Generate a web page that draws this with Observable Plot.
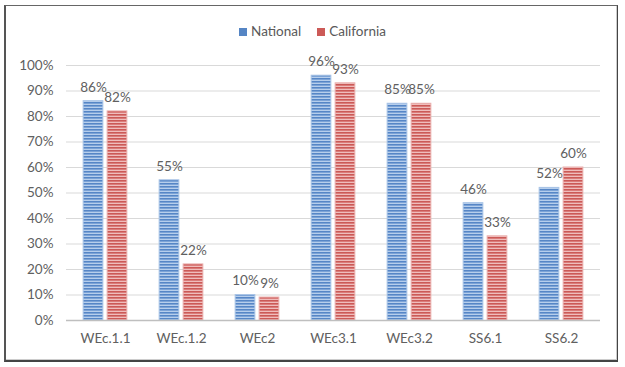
<!DOCTYPE html>
<html>
<head>
<meta charset="utf-8">
<script src="https://cdn.jsdelivr.net/npm/d3@7"></script>
<script src="https://cdn.jsdelivr.net/npm/@observablehq/plot@0.6"></script>
<style>
  html, body { margin: 0; padding: 0; background: #fff; }
  #wrap { position: relative; width: 625px; height: 367px; font-family: Lato, "Liberation Sans", sans-serif; }
  #frame { position: absolute; left: 4px; top: 5px; width: 611px; height: 354px; border-left: 2px solid #555; border-top: 1px solid #666; border-right: 1px solid #444; border-bottom: 2px solid #444; box-shadow: inset -1px -1px 0 #ccc; pointer-events: none; }
  #legend { position: absolute; top: 23px; left: 0; width: 625px; text-align: center; font-size: 13.5px; color: #595959; }
  #legend span.item { margin: 0 8px; }
  #legend span.sw { display: inline-block; width: 8px; height: 8px; margin-right: 4px; vertical-align: 0px; }
</style>
</head>
<body>
<div id="wrap">
  <div id="chart"></div>
  <div id="legend"></div>
  <div id="frame"></div>
</div>
<script>
const categories = ["WEc.1.1", "WEc.1.2", "WEc2", "WEc3.1", "WEc3.2", "SS6.1", "SS6.2"];
const seriesNames = ["National", "California"];
const national = [86, 55, 10, 96, 85, 46, 52];
const california = [82, 22, 9, 93, 85, 33, 60];
const yTicks = [0, 10, 20, 30, 40, 50, 60, 70, 80, 90, 100];

const natData = categories.map((c, i) => ({cat: c, value: national[i]}));
const calData = categories.map((c, i) => ({cat: c, value: california[i]}));

const step = 534 / 7;
const half = step / 2;

const plot = Plot.plot({
  width: 625,
  height: 367,
  marginTop: 65,
  marginBottom: 47,
  marginLeft: 66,
  marginRight: 25,
  style: {fontFamily: "Lato, 'Liberation Sans', sans-serif", fontSize: "13.5px", color: "#595959", background: "transparent"},
  x: {domain: categories, padding: 0},
  y: {domain: [0, 100]},
  marks: [
    Plot.gridY(yTicks, {stroke: "#d9d9d9", strokeOpacity: 1}),
    Plot.barY(natData, {x: "cat", y: "value", fill: "url(#pNat)", stroke: "#a9c4e6", strokeWidth: 1,
      insetLeft: half - 22, insetRight: half + 2}),
    Plot.barY(calData, {x: "cat", y: "value", fill: "url(#pCal)", stroke: "#eab0ae", strokeWidth: 1,
      insetLeft: half + 2, insetRight: half - 22}),
    Plot.text(natData, {x: "cat", y: "value", text: d => d.value + "%", dx: -12, dy: -14, fill: "#606060", fontSize: 13.5}),
    Plot.text(calData, {x: "cat", y: "value", text: d => d.value + "%", dx: 12, dy: -14, fill: "#606060", fontSize: 13.5}),
    Plot.ruleY([0], {stroke: "#bfbfbf", strokeWidth: 1.5}),
    Plot.axisY(yTicks, {tickFormat: d => d + "%", tickSize: 0, tickPadding: 13, label: null, fill: "#606060"}),
    Plot.axisX({tickSize: 0, tickPadding: 13, label: null, fill: "#606060"})
  ]
});

d3.select(plot).insert("defs", ":first-child").html(`
  <pattern id="pNat" patternUnits="userSpaceOnUse" width="4" height="3">
    <rect width="4" height="3" fill="#5686c6"/>
    <rect y="1" width="4" height="1" fill="#7ca3d6"/>
    <rect y="2" width="4" height="1" fill="#b6ceec"/>
  </pattern>
  <pattern id="pCal" patternUnits="userSpaceOnUse" width="4" height="3">
    <rect width="4" height="3" fill="#cb5a57"/>
    <rect y="1" width="4" height="1" fill="#da7c7a"/>
    <rect y="2" width="4" height="1" fill="#efbdbc"/>
  </pattern>
`);

document.getElementById("chart").appendChild(plot);

const legendColors = {National: "#5585c4", California: "#cc5a57"};
document.getElementById("legend").innerHTML = seriesNames.map(s =>
  `<span class="item"><span class="sw" style="background:${legendColors[s]}"></span>${s}</span>`).join("");
</script>
</body>
</html>
